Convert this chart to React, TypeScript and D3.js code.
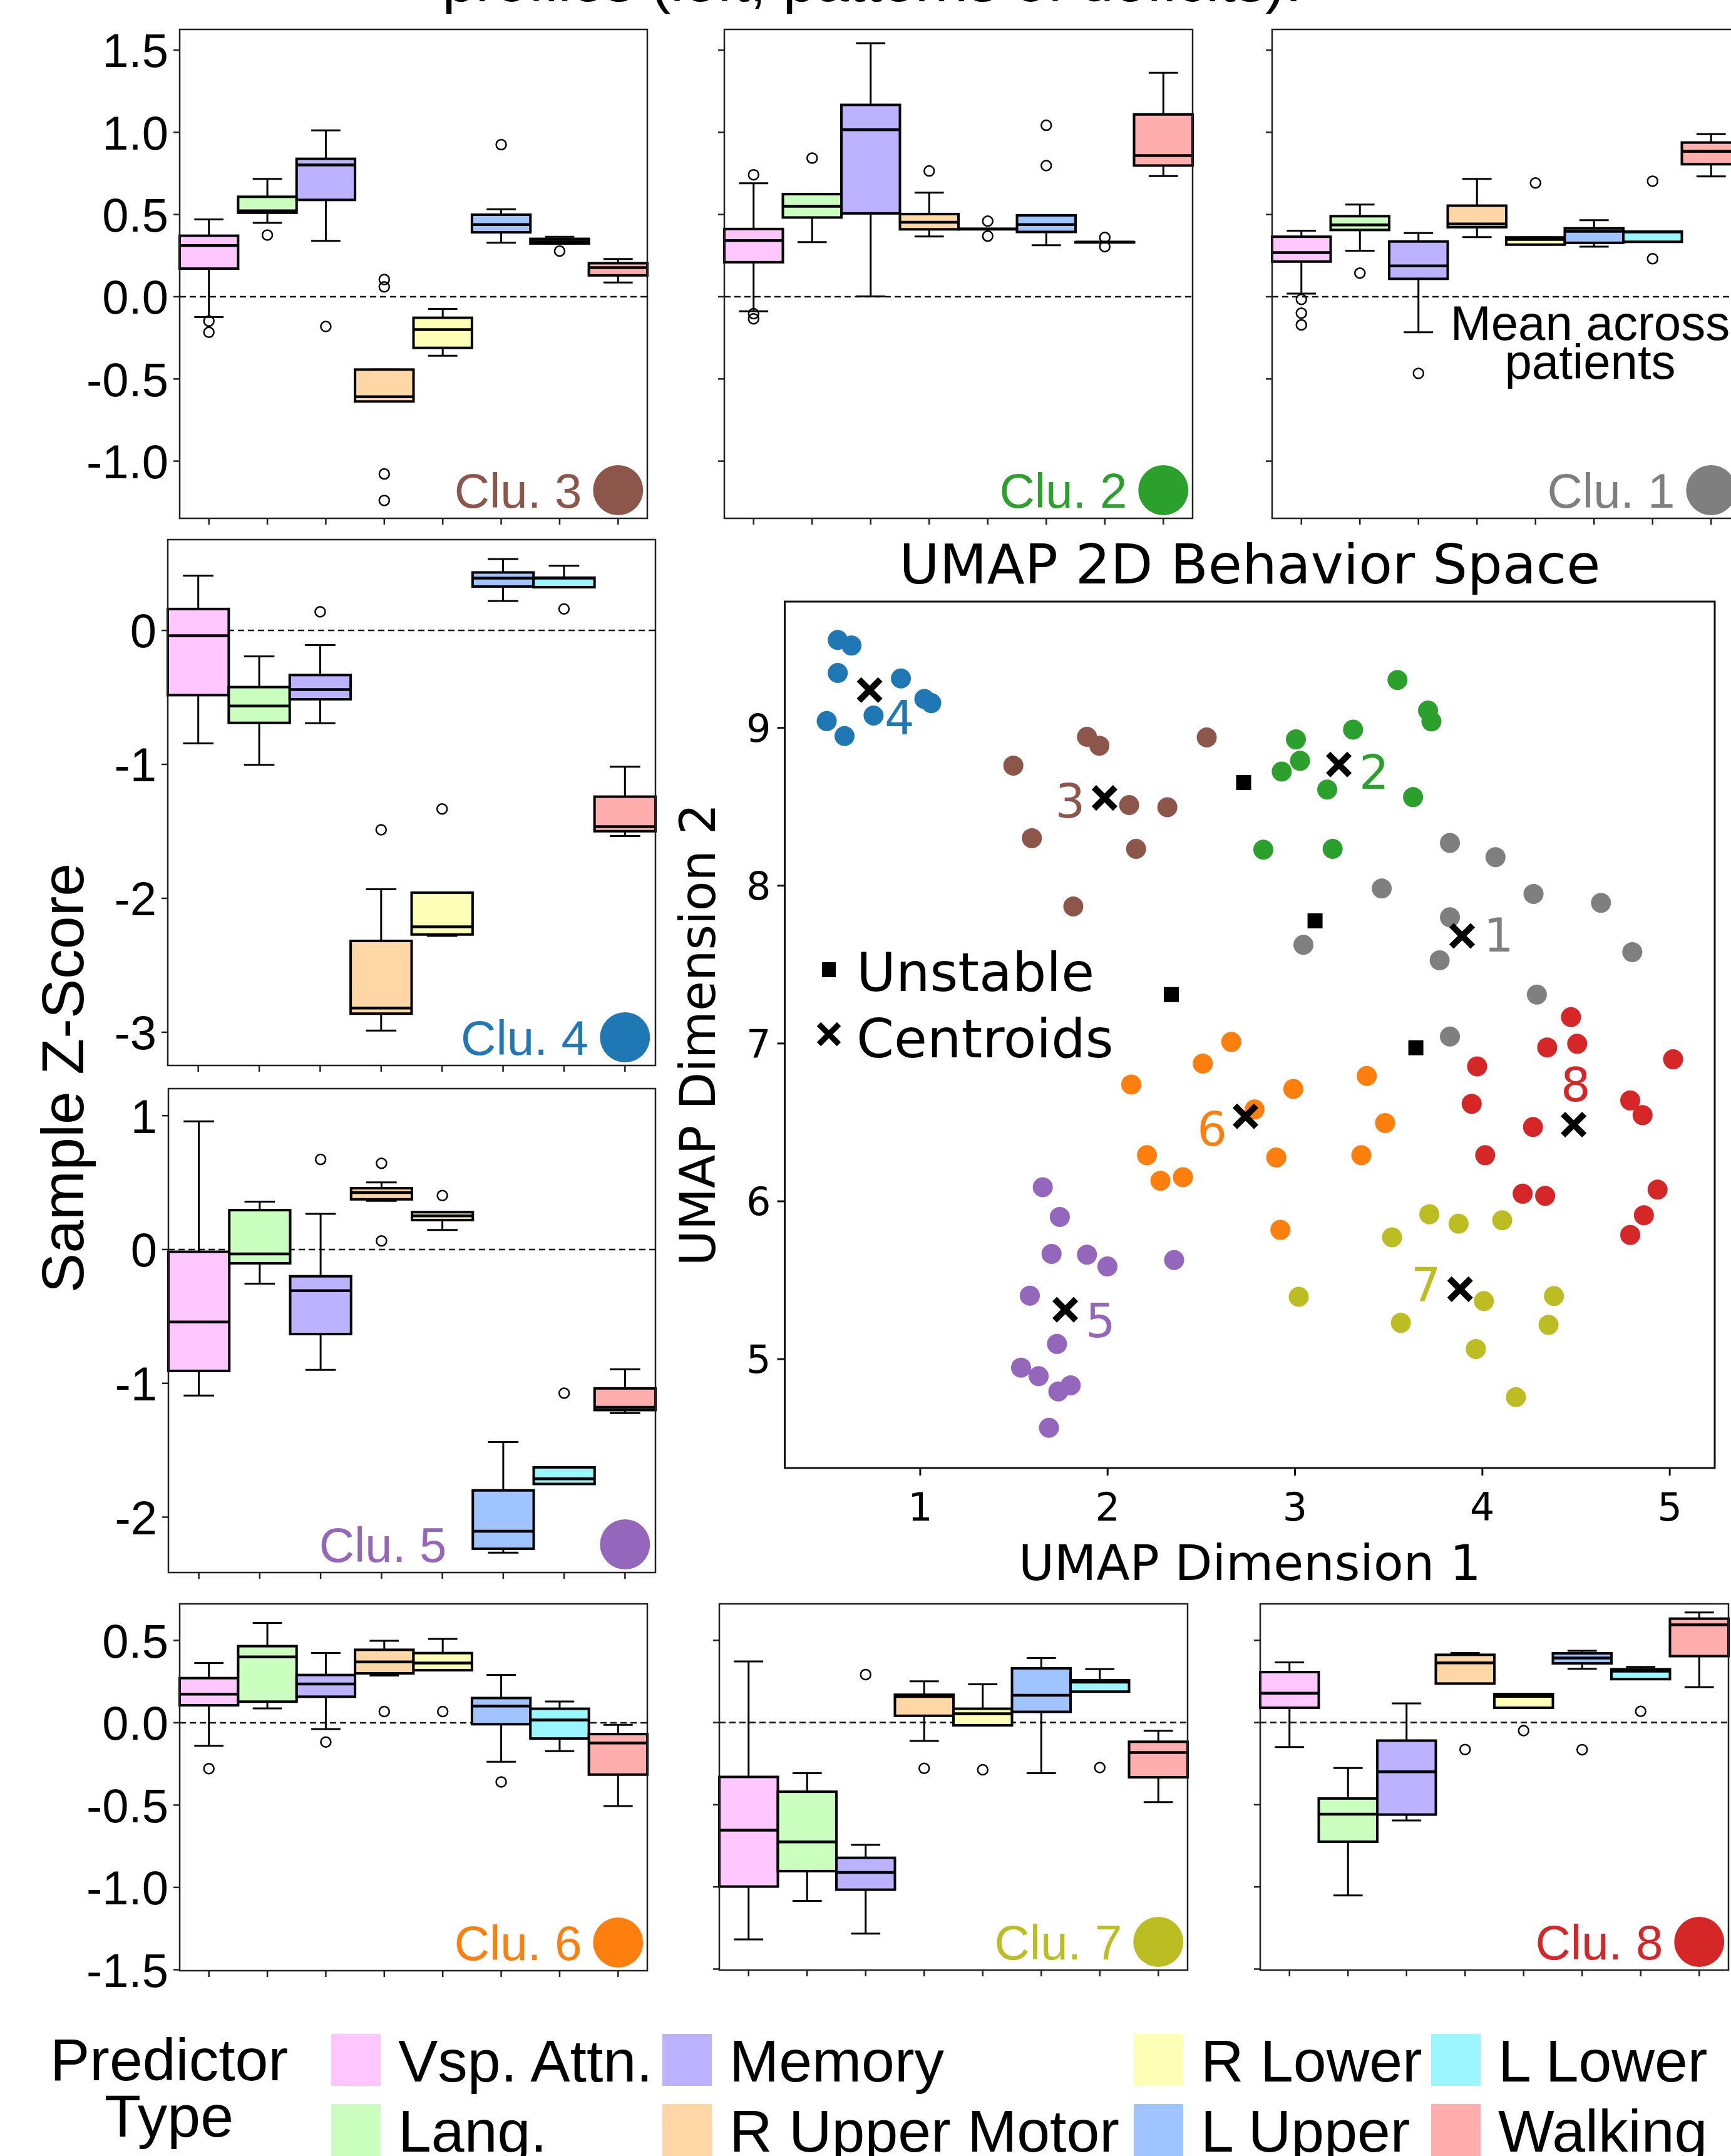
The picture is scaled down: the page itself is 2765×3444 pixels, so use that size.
import * as d3 from "d3";

// predictor types (box order inside every cluster panel)
const categories = ["Vsp. Attn.", "Lang.", "Memory", "R Upper Motor", "R Lower", "L Upper", "L Lower", "Walking"];
const catColors = ["#ffc6ff", "#caffbf", "#bdb2ff", "#ffd6a5", "#fdffb6", "#a0c4ff", "#9bf6ff", "#ffadad"];

// box stats per predictor: [low whisker, q1, median, q3, high whisker]
const clu3Boxes = [
  [-0.124, 0.171, 0.311, 0.371, 0.47],
  [0.449, 0.511, 0.523, 0.608, 0.717],
  [0.34, 0.589, 0.802, 0.839, 1.012],
  [-0.637, -0.637, -0.608, -0.443, -0.443],
  [-0.359, -0.311, -0.2, -0.128, -0.074],
  [0.328, 0.392, 0.439, 0.499, 0.532],
  [0.324, 0.324, 0.336, 0.352, 0.365],
  [0.087, 0.13, 0.177, 0.204, 0.229],
];
const clu3Outliers = [[-0.148, -0.216], [0.375], [-0.181], [0.105, 0.06, -1.078, -1.239], [], [0.925], [0.278], []];

const clu2Boxes = [
  [-0.089, 0.21, 0.342, 0.412, 0.69],
  [0.332, 0.482, 0.55, 0.624, 0.624],
  [0.002, 0.507, 1.016, 1.167, 1.542],
  [0.367, 0.41, 0.453, 0.503, 0.633],
  [0.412, 0.412, 0.412, 0.412, 0.412],
  [0.313, 0.394, 0.439, 0.495, 0.495],
  [0.332, 0.332, 0.332, 0.332, 0.332],
  [0.734, 0.798, 0.859, 1.109, 1.362],
];
const clu2Outliers = [[0.742, -0.103, -0.134], [0.843], [], [0.765], [0.46, 0.369], [1.043, 0.798], [0.361, 0.305], []];

const clu1Boxes = [
  [0.019, 0.214, 0.268, 0.365, 0.402],
  [0.28, 0.406, 0.437, 0.49, 0.561],
  [-0.216, 0.109, 0.188, 0.336, 0.387],
  [0.363, 0.423, 0.443, 0.554, 0.717],
  [0.317, 0.317, 0.348, 0.361, 0.361],
  [0.305, 0.328, 0.398, 0.416, 0.466],
  [0.334, 0.334, 0.394, 0.396, 0.396],
  [0.732, 0.806, 0.884, 0.938, 0.989],
];
const clu1Outliers = [[-0.016, -0.1, -0.171], [0.144], [-0.466], [], [0.692], [], [0.703, 0.231], []];

const clu4Boxes = [
  [-0.843, -0.483, -0.039, 0.16, 0.409],
  [-1.003, -0.69, -0.564, -0.423, -0.194],
  [-0.693, -0.514, -0.441, -0.333, -0.11],
  [-2.987, -2.861, -2.819, -2.318, -1.932],
  [-2.281, -2.27, -2.213, -1.958, -1.958],
  [0.22, 0.328, 0.391, 0.433, 0.533],
  [0.323, 0.323, 0.39, 0.394, 0.483],
  [-1.535, -1.499, -1.465, -1.241, -1.018],
];
const clu4Outliers = [[], [], [0.139], [-1.488], [-1.333], [], [0.16], []];

const clu5Boxes = [
  [-1.091, -0.907, -0.542, -0.017, 0.957],
  [-0.255, -0.103, -0.033, 0.294, 0.358],
  [-0.9, -0.632, -0.308, -0.2, 0.267],
  [0.363, 0.375, 0.425, 0.458, 0.501],
  [0.146, 0.22, 0.251, 0.279, 0.279],
  [-2.265, -2.236, -2.105, -1.8, -1.439],
  [-1.752, -1.752, -1.714, -1.628, -1.628],
  [-1.222, -1.2, -1.179, -1.038, -0.895],
];
const clu5Outliers = [[], [], [0.673], [0.644, 0.064], [0.403], [], [-1.074], []];

const clu6Boxes = [
  [-0.14, 0.106, 0.174, 0.271, 0.363],
  [0.087, 0.128, 0.4, 0.465, 0.606],
  [-0.038, 0.158, 0.235, 0.29, 0.424],
  [0.287, 0.3, 0.369, 0.443, 0.498],
  [0.319, 0.319, 0.363, 0.423, 0.509],
  [-0.237, -0.009, 0.101, 0.15, 0.29],
  [-0.172, -0.096, 0.017, 0.085, 0.129],
  [-0.506, -0.315, -0.123, -0.069, -0.013],
];
const clu6Outliers = [[-0.279], [], [-0.117], [0.068], [0.068], [-0.36], [], []];

const clu7Boxes = [
  [-1.319, -0.998, -0.655, -0.331, 0.372],
  [-1.085, -0.904, -0.726, -0.421, -0.308],
  [-1.284, -1.017, -0.912, -0.823, -0.744],
  [-0.112, 0.041, 0.158, 0.169, 0.251],
  [-0.017, -0.017, 0.054, 0.084, 0.233],
  [-0.308, 0.065, 0.166, 0.33, 0.393],
  [0.188, 0.188, 0.246, 0.257, 0.325],
  [-0.484, -0.333, -0.183, -0.117, -0.05],
];
const clu7Outliers = [[], [], [0.292], [-0.279], [-0.287], [], [-0.274], []];

const clu8Boxes = [
  [-0.149, 0.09, 0.178, 0.307, 0.366],
  [-1.052, -0.725, -0.558, -0.462, -0.277],
  [-0.596, -0.56, -0.3, -0.11, 0.116],
  [0.237, 0.237, 0.363, 0.412, 0.423],
  [0.09, 0.09, 0.159, 0.173, 0.173],
  [0.327, 0.36, 0.393, 0.421, 0.436],
  [0.264, 0.264, 0.313, 0.324, 0.338],
  [0.215, 0.404, 0.594, 0.632, 0.67],
];
const clu8Outliers = [[], [], [], [-0.164], [-0.049], [-0.165], [0.068], []];

// UMAP embedding, one list of [dim1, dim2] per cluster
const umapClu1 = [[3.827, 8.271], [4.07, 8.181], [3.463, 7.982], [4.273, 7.948], [4.633, 7.891], [3.827, 7.8], [3.045, 7.625], [3.772, 7.527], [4.8, 7.579], [4.291, 7.31], [3.827, 7.044]];
const umapClu2 = [[3.547, 9.303], [3.71, 9.11], [3.728, 9.041], [3.31, 8.989], [3.005, 8.927], [3.027, 8.791], [2.929, 8.723], [3.172, 8.609], [3.63, 8.561], [2.831, 8.228], [3.201, 8.233]];
const umapClu3 = [[1.497, 8.761], [1.89, 8.943], [1.956, 8.887], [2.529, 8.939], [1.596, 8.301], [2.115, 8.511], [2.319, 8.497], [2.152, 8.233], [1.817, 7.868]];
const umapClu4 = [[0.56, 9.557], [0.633, 9.522], [0.56, 9.348], [0.897, 9.313], [1.022, 9.183], [1.059, 9.157], [0.751, 9.078], [0.501, 9.043], [0.596, 8.948]];
const umapClu5 = [[1.654, 6.089], [1.745, 5.901], [1.701, 5.667], [1.89, 5.662], [1.999, 5.587], [2.355, 5.628], [1.585, 5.402], [1.73, 5.096], [1.538, 4.946], [1.632, 4.892], [1.737, 4.795], [1.803, 4.834], [1.687, 4.565]];
const umapClu6 = [[2.66, 7.01], [2.508, 6.873], [2.126, 6.74], [2.991, 6.712], [3.383, 6.794], [2.784, 6.582], [3.481, 6.496], [2.21, 6.292], [2.9, 6.278], [3.354, 6.292], [2.282, 6.13], [2.402, 6.153], [2.922, 5.819]];
const umapClu7 = [[3.717, 5.918], [3.873, 5.858], [4.106, 5.88], [3.518, 5.772], [3.02, 5.395], [4.008, 5.368], [4.382, 5.4], [3.565, 5.23], [4.353, 5.217], [3.965, 5.064], [4.179, 4.759]];
const umapClu8 = [[4.473, 7.167], [4.346, 6.975], [4.506, 6.998], [5.018, 6.9], [3.972, 6.855], [4.789, 6.639], [4.855, 6.546], [3.943, 6.618], [4.27, 6.471], [4.015, 6.292], [4.215, 6.048], [4.335, 6.035], [4.935, 6.074], [4.862, 5.912], [4.789, 5.787]];
const unstablePoints = [[2.726, 8.654], [3.107, 7.777], [2.34, 7.31], [3.645, 6.973]];
const centroids = [[3.892, 7.682], [3.234, 8.768], [1.984, 8.556], [0.73, 9.24], [1.774, 5.313], [2.736, 6.538], [3.881, 5.443], [4.487, 6.486]];
// where each cluster number is written: [x, y, anchor]
const centroidLabels: [number, number, string][] = [
  [4.007, 7.583, "start"], [3.342, 8.615, "start"], [1.88, 8.43, "end"], [0.81, 8.96, "start"],
  [1.882, 5.139, "start"], [2.637, 6.353, "end"], [3.779, 5.369, "end"], [4.498, 6.633, "middle"],
];
const clusterColors = ["#7f7f7f", "#2ca02c", "#8c564b", "#1f77b4", "#9467bd", "#ff7f0e", "#bcbd22", "#d62728"];
const umapSeries = [umapClu1, umapClu2, umapClu3, umapClu4, umapClu5, umapClu6, umapClu7, umapClu8];

const ARIAL = "'Liberation Sans', Arial, Helvetica, sans-serif";
const DEJAVU = "'DejaVu Sans', sans-serif";

const fmt1 = (v: number) => v.toFixed(1);
const fmt0 = (v: number) => String(v);

const topTicks = [1.5, 1.0, 0.5, 0.0, -0.5, -1.0];
const botTicks = [0.5, 0.0, -0.5, -1.0, -1.5];

const panels = [
  { n: 3, boxes: clu3Boxes, outl: clu3Outliers, l: 287, r: 1034, t: 47, b: 828, dom: [-1.348, 1.626], ticks: topTicks, fmt: fmt1, labels: true, labEnd: 6.38 },
  { n: 2, boxes: clu2Boxes, outl: clu2Outliers, l: 1157, r: 1905, t: 47, b: 828, dom: [-1.348, 1.626], ticks: topTicks, fmt: fmt1, labels: false, labEnd: 6.38 },
  { n: 1, boxes: clu1Boxes, outl: clu1Outliers, l: 2032, r: 2780, t: 47, b: 828, dom: [-1.348, 1.626], ticks: topTicks, fmt: fmt1, labels: false, labEnd: 6.38 },
  { n: 4, boxes: clu4Boxes, outl: clu4Outliers, l: 268, r: 1047, t: 862, b: 1702, dom: [-3.248, 0.678], ticks: [0, -1, -2, -3], fmt: fmt0, labels: true, labEnd: 6.4 },
  { n: 5, boxes: clu5Boxes, outl: clu5Outliers, l: 269, r: 1047, t: 1739, b: 2512, dom: [-2.414, 1.202], ticks: [1, 0, -1, -2], fmt: fmt0, labels: true, labEnd: 4.07 },
  { n: 6, boxes: clu6Boxes, outl: clu6Outliers, l: 287, r: 1034, t: 2562, b: 3148, dom: [-1.506, 0.722], ticks: botTicks, fmt: fmt1, labels: true, labEnd: 6.38 },
  { n: 7, boxes: clu7Boxes, outl: clu7Outliers, l: 1149, r: 1897, t: 2562, b: 3147, dom: [-1.506, 0.722], ticks: botTicks, fmt: fmt1, labels: false, labEnd: 6.38 },
  { n: 8, boxes: clu8Boxes, outl: clu8Outliers, l: 2013, r: 2761, t: 2562, b: 3147, dom: [-1.506, 0.722], ticks: botTicks, fmt: fmt1, labels: false, labEnd: 6.38 },
];

type Panel = (typeof panels)[number];

function BoxPanel({ p }: { p: Panel }) {
  const x = d3.scaleLinear().domain([-0.5, 7.5]).range([p.l, p.r]);
  const y = d3.scaleLinear().domain(p.dom).range([p.b, p.t]);
  const bw = x(1) - x(0);
  const color = clusterColors[p.n - 1];
  const cy = p.b - 45;
  return (
    <g>
      {/* zero reference */}
      <line x1={p.l} x2={p.r} y1={y(0)} y2={y(0)} stroke="#111" strokeWidth={2.5} strokeDasharray="10,6" />
      {p.boxes.map((s, i) => {
        const cx = x(i);
        const [lo, q1, med, q3, hi] = s;
        return (
          <g key={i}>
            <line x1={cx} x2={cx} y1={y(lo)} y2={y(q1)} stroke="#000" strokeWidth={3} />
            <line x1={cx} x2={cx} y1={y(q3)} y2={y(hi)} stroke="#000" strokeWidth={3} />
            <line x1={cx - bw / 4} x2={cx + bw / 4} y1={y(lo)} y2={y(lo)} stroke="#000" strokeWidth={3} />
            <line x1={cx - bw / 4} x2={cx + bw / 4} y1={y(hi)} y2={y(hi)} stroke="#000" strokeWidth={3} />
            <rect x={cx - bw / 2} y={y(q3)} width={bw} height={Math.max(0.5, y(q1) - y(q3))}
              fill={catColors[i]} stroke="#000" strokeWidth={4} />
            <line x1={cx - bw / 2} x2={cx + bw / 2} y1={y(med)} y2={y(med)} stroke="#000" strokeWidth={4.5} />
            {p.outl[i].map((o, j) => (
              <circle key={j} cx={cx} cy={y(o)} r={8} fill="none" stroke="#000" strokeWidth={2.5} />
            ))}
          </g>
        );
      })}
      <rect x={p.l} y={p.t} width={p.r - p.l} height={p.b - p.t} fill="none" stroke="#222" strokeWidth={2.5} />
      {p.ticks.map((t) => (
        <g key={t}>
          <line x1={p.l - 10} x2={p.l} y1={y(t)} y2={y(t)} stroke="#222" strokeWidth={2.5} />
          {p.labels && (
            <text x={p.l - 18} y={y(t)} dy="0.36em" textAnchor="end" fontFamily={ARIAL} fontSize={76} fill="#000">
              {p.fmt(t)}
            </text>
          )}
        </g>
      ))}
      {categories.map((c, i) => (
        <line key={c} x1={x(i)} x2={x(i)} y1={p.b} y2={p.b + 10} stroke="#222" strokeWidth={2.5} />
      ))}
      <text x={x(p.labEnd)} y={cy + 28} textAnchor="end" fontFamily={ARIAL} fontSize={78} fill={color}>
        {`Clu. ${p.n}`}
      </text>
      <circle cx={x(7)} cy={cy} r={40} fill={color} />
    </g>
  );
}

function UmapPanel() {
  const L = 1253.5, R = 2739, T = 961, B = 2345;
  const x = d3.scaleLinear().domain([0.277, 5.24]).range([L, R]);
  const y = d3.scaleLinear().domain([4.31, 9.8]).range([B, T]);
  const cross = (cx: number, cy: number, s: number, w: number, key?: any) => (
    <path key={key} d={`M${cx - s},${cy - s}L${cx + s},${cy + s}M${cx - s},${cy + s}L${cx + s},${cy - s}`}
      stroke="#000" strokeWidth={w} fill="none" />
  );
  return (
    <g fontFamily={DEJAVU}>
      <text x={(L + R) / 2} y={932} textAnchor="middle" fontSize={88}>UMAP 2D Behavior Space</text>
      {umapSeries.map((pts, k) =>
        pts.map((d, i) => <circle key={`${k}-${i}`} cx={x(d[0])} cy={y(d[1])} r={16} fill={clusterColors[k]} />)
      )}
      {unstablePoints.map((d, i) => (
        <rect key={i} x={x(d[0]) - 12} y={y(d[1]) - 12} width={24} height={24} fill="#000" />
      ))}
      {centroids.map((d, i) => cross(x(d[0]), y(d[1]), 17, 10, i))}
      {centroidLabels.map((d, i) => (
        <text key={i} x={x(d[0])} y={y(d[1])} textAnchor={d[2] as any} fontSize={75} fill={clusterColors[i]}>
          {i + 1}
        </text>
      ))}
      {/* legend */}
      <rect x={1313} y={1537} width={22} height={24} fill="#000" />
      <text x={1368} y={1583} fontSize={86}>Unstable</text>
      {cross(1324, 1652, 16, 9)}
      <text x={1368} y={1689} fontSize={86}>Centroids</text>
      <rect x={L} y={T} width={R - L} height={B - T} fill="none" stroke="#111" strokeWidth={3} />
      {x.ticks(5).filter((t) => Number.isInteger(t)).map((t) => (
        <g key={t}>
          <line x1={x(t)} x2={x(t)} y1={B} y2={B + 12} stroke="#111" strokeWidth={3} />
          <text x={x(t)} y={2429} textAnchor="middle" fontSize={62}>{t}</text>
        </g>
      ))}
      {[5, 6, 7, 8, 9].map((t) => (
        <g key={t}>
          <line x1={L - 12} x2={L} y1={y(t)} y2={y(t)} stroke="#111" strokeWidth={3} />
          <text x={L - 22} y={y(t)} dy="0.36em" textAnchor="end" fontSize={62}>{t}</text>
        </g>
      ))}
      <text x={(L + R) / 2} y={2524} textAnchor="middle" fontSize={78}>UMAP Dimension 1</text>
      <text transform={`translate(1142,1653) rotate(-90)`} textAnchor="middle" fontSize={78}>UMAP Dimension 2</text>
    </g>
  );
}

function Legend() {
  const colX = [529, 1058, 1811, 2286];
  const rowY = [3249, 3361];
  return (
    <g fontFamily={ARIAL} fontSize={95}>
      <text x={270} y={3323} textAnchor="middle">Predictor</text>
      <text x={270} y={3413} textAnchor="middle">Type</text>
      {categories.map((c, i) => {
        const col = Math.floor(i / 2);
        const row = i % 2;
        return (
          <g key={c}>
            <rect x={colX[col]} y={rowY[row]} width={79} height={83} fill={catColors[i]} />
            <text x={colX[col] + 107} y={rowY[row] + 76}>{c}</text>
          </g>
        );
      })}
    </g>
  );
}

export default function App() {
  return (
    <svg width={2765} height={3444} style={{ position: "absolute", left: 0, top: 0, background: "#fff" }}>
      <rect width={2765} height={3444} fill="#fff" />
      <text x={1393} y={2} textAnchor="middle" fontFamily={ARIAL} fontSize={95}>
        profiles (left, patterns of deficits).
      </text>
      {panels.map((p) => <BoxPanel key={p.n} p={p} />)}
      <text transform="translate(133,1722) rotate(-90)" textAnchor="middle" fontFamily={ARIAL} fontSize={95}>
        Sample Z-Score
      </text>
      <text x={2540} y={543} textAnchor="middle" fontFamily={ARIAL} fontSize={78}>Mean across</text>
      <text x={2540} y={605} textAnchor="middle" fontFamily={ARIAL} fontSize={78}>patients</text>
      <UmapPanel />
      <Legend />
    </svg>
  );
}
